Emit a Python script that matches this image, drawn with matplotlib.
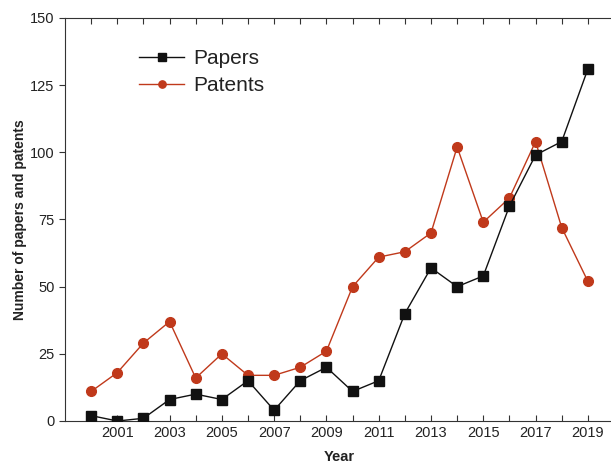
import matplotlib
matplotlib.use("Agg")
import matplotlib.pyplot as plt
from matplotlib.ticker import FixedLocator

plt.rcParams['font.family'] = ['Liberation Sans', 'DejaVu Sans']

years = list(range(2000, 2020))
papers = [2, 0, 1, 8, 10, 8, 15, 4, 15, 20, 11, 15, 40, 57, 50, 54, 80, 99, 104, 131]
patents = [11, 18, 29, 37, 16, 25, 17, 17, 20, 26, 50, 61, 63, 70, 102, 74, 83, 104, 72, 52]
xticks = list(range(2001, 2020, 2))
yticks = [0, 25, 50, 75, 100, 125, 150]

fig = plt.figure(figsize=(6.11, 4.66), dpi=100)
ax = fig.add_axes([65/611, 1-421/466, (614-65)/611, (421-18)/466])

red = '#c0391b'
ax.plot(years, patents, '-o', color=red, lw=1, ms=7, label='Patents', zorder=2)
ax.plot(years, papers, '-s', color='#111111', lw=1, ms=7, label='Papers', zorder=3)

ax.set_xlim(1999, 2020)
ax.set_ylim(0, 150)
ax.xaxis.set_major_locator(FixedLocator(xticks))
ax.xaxis.set_minor_locator(FixedLocator([y for y in range(2000, 2020) if y % 2 == 0]))
ax.yaxis.set_major_locator(FixedLocator(yticks))
ax.tick_params(axis='both', which='both', direction='in', top=True, right=False, labelsize=10.5, width=0.8, color='#333333', labelcolor='#222222')
ax.tick_params(axis='both', which='major', length=4)
ax.tick_params(axis='both', which='minor', length=4)
ax.tick_params(axis='y', direction='out', length=4)
ax.spines['right'].set_visible(False)
for s in ['left', 'bottom', 'top']:
    ax.spines[s].set_color('#333333')
    ax.spines[s].set_linewidth(0.8)

ax.set_xlabel('Year', fontsize=10.5, fontweight='bold', labelpad=7, color='#222222')
ax.set_ylabel('Number of papers and patents', fontsize=10, fontweight='bold', labelpad=2, color='#222222')

h, l = ax.get_legend_handles_labels()
ax.legend([h[1], h[0]], [l[1], l[0]], loc='upper left', bbox_to_anchor=(0.10, 0.97),
          frameon=False, fontsize=15, markerscale=0.75, handlelength=2.2, handletextpad=0.4,
          labelspacing=0.4, labelcolor='#222222')

fig.savefig('out.png', dpi=100)
